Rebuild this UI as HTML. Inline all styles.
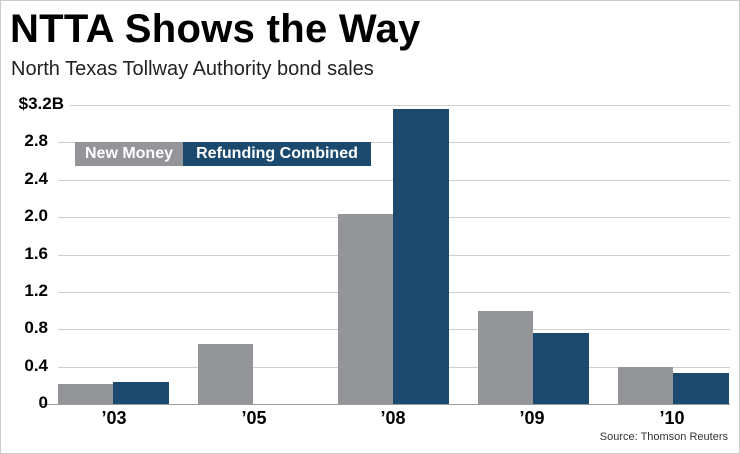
<!DOCTYPE html><html><head><style>
body{margin:0;width:740px;height:454px;background:#fff;font-family:"Liberation Sans",sans-serif;overflow:hidden}
.f{position:absolute;left:0;top:0;width:738px;height:452px;border:1px solid #ccc}
.t{position:absolute;font-weight:bold}
.g{position:absolute;height:1px;background:#cfcfcf;right:10px}
.b{position:absolute;bottom:50px}
.gr{background:#939598}.bl{background:#1b4a6e}
.yl{position:absolute;left:6px;width:42px;text-align:right;font-weight:bold;font-size:17px}
.xl{position:absolute;top:408px;width:60px;text-align:center;font-weight:bold;font-size:18px}
</style></head><body><div class="f"></div>
<div class="t" style="left:10px;top:7px;font-size:40px;letter-spacing:0.3px">NTTA Shows the Way</div>
<div style="position:absolute;left:11px;top:58px;font-size:20px;color:#222">North Texas Tollway Authority bond sales</div>
<div class="g" style="left:70px;top:105px"></div>
<div class="g" style="left:58px;top:142px"></div>
<div class="g" style="left:58px;top:180px"></div>
<div class="g" style="left:58px;top:217px"></div>
<div class="g" style="left:58px;top:255px"></div>
<div class="g" style="left:58px;top:292px"></div>
<div class="g" style="left:58px;top:329px"></div>
<div class="g" style="left:58px;top:367px"></div>
<div class="g" style="left:40px;top:404px;background:#999"></div>
<div class="yl" style="top:94px;left:10px;width:54px">$3.2B</div>
<div class="yl" style="top:131px">2.8</div>
<div class="yl" style="top:169px">2.4</div>
<div class="yl" style="top:206px">2.0</div>
<div class="yl" style="top:244px">1.6</div>
<div class="yl" style="top:281px">1.2</div>
<div class="yl" style="top:318px">0.8</div>
<div class="yl" style="top:356px">0.4</div>
<div class="yl" style="top:393px">0</div>
<div class="b gr" style="left:58px;width:55px;height:20px"></div>
<div class="b bl" style="left:113px;width:56px;height:22px"></div>
<div class="b gr" style="left:198px;width:55px;height:60px"></div>
<div class="b gr" style="left:338px;width:55px;height:190px"></div>
<div class="b bl" style="left:393px;width:56px;height:295px"></div>
<div class="b gr" style="left:478px;width:55px;height:93px"></div>
<div class="b bl" style="left:533px;width:56px;height:71px"></div>
<div class="b gr" style="left:618px;width:55px;height:37px"></div>
<div class="b bl" style="left:673px;width:56px;height:31px"></div>
<div class="gr" style="position:absolute;left:75px;top:142px;width:108px;height:24px;color:#fff;font-weight:bold;font-size:16px;line-height:24px;text-align:center">New Money</div>
<div class="bl" style="position:absolute;left:183px;top:142px;width:188px;height:24px;color:#fff;font-weight:bold;font-size:16px;line-height:24px;text-align:center">Refunding Combined</div>
<div class="xl" style="left:84px">’03</div>
<div class="xl" style="left:224px">’05</div>
<div class="xl" style="left:363px">’08</div>
<div class="xl" style="left:502px">’09</div>
<div class="xl" style="left:642px">’10</div>
<div style="position:absolute;right:12px;top:431px;font-size:11px;color:#333">Source: Thomson Reuters</div>
</body></html>
